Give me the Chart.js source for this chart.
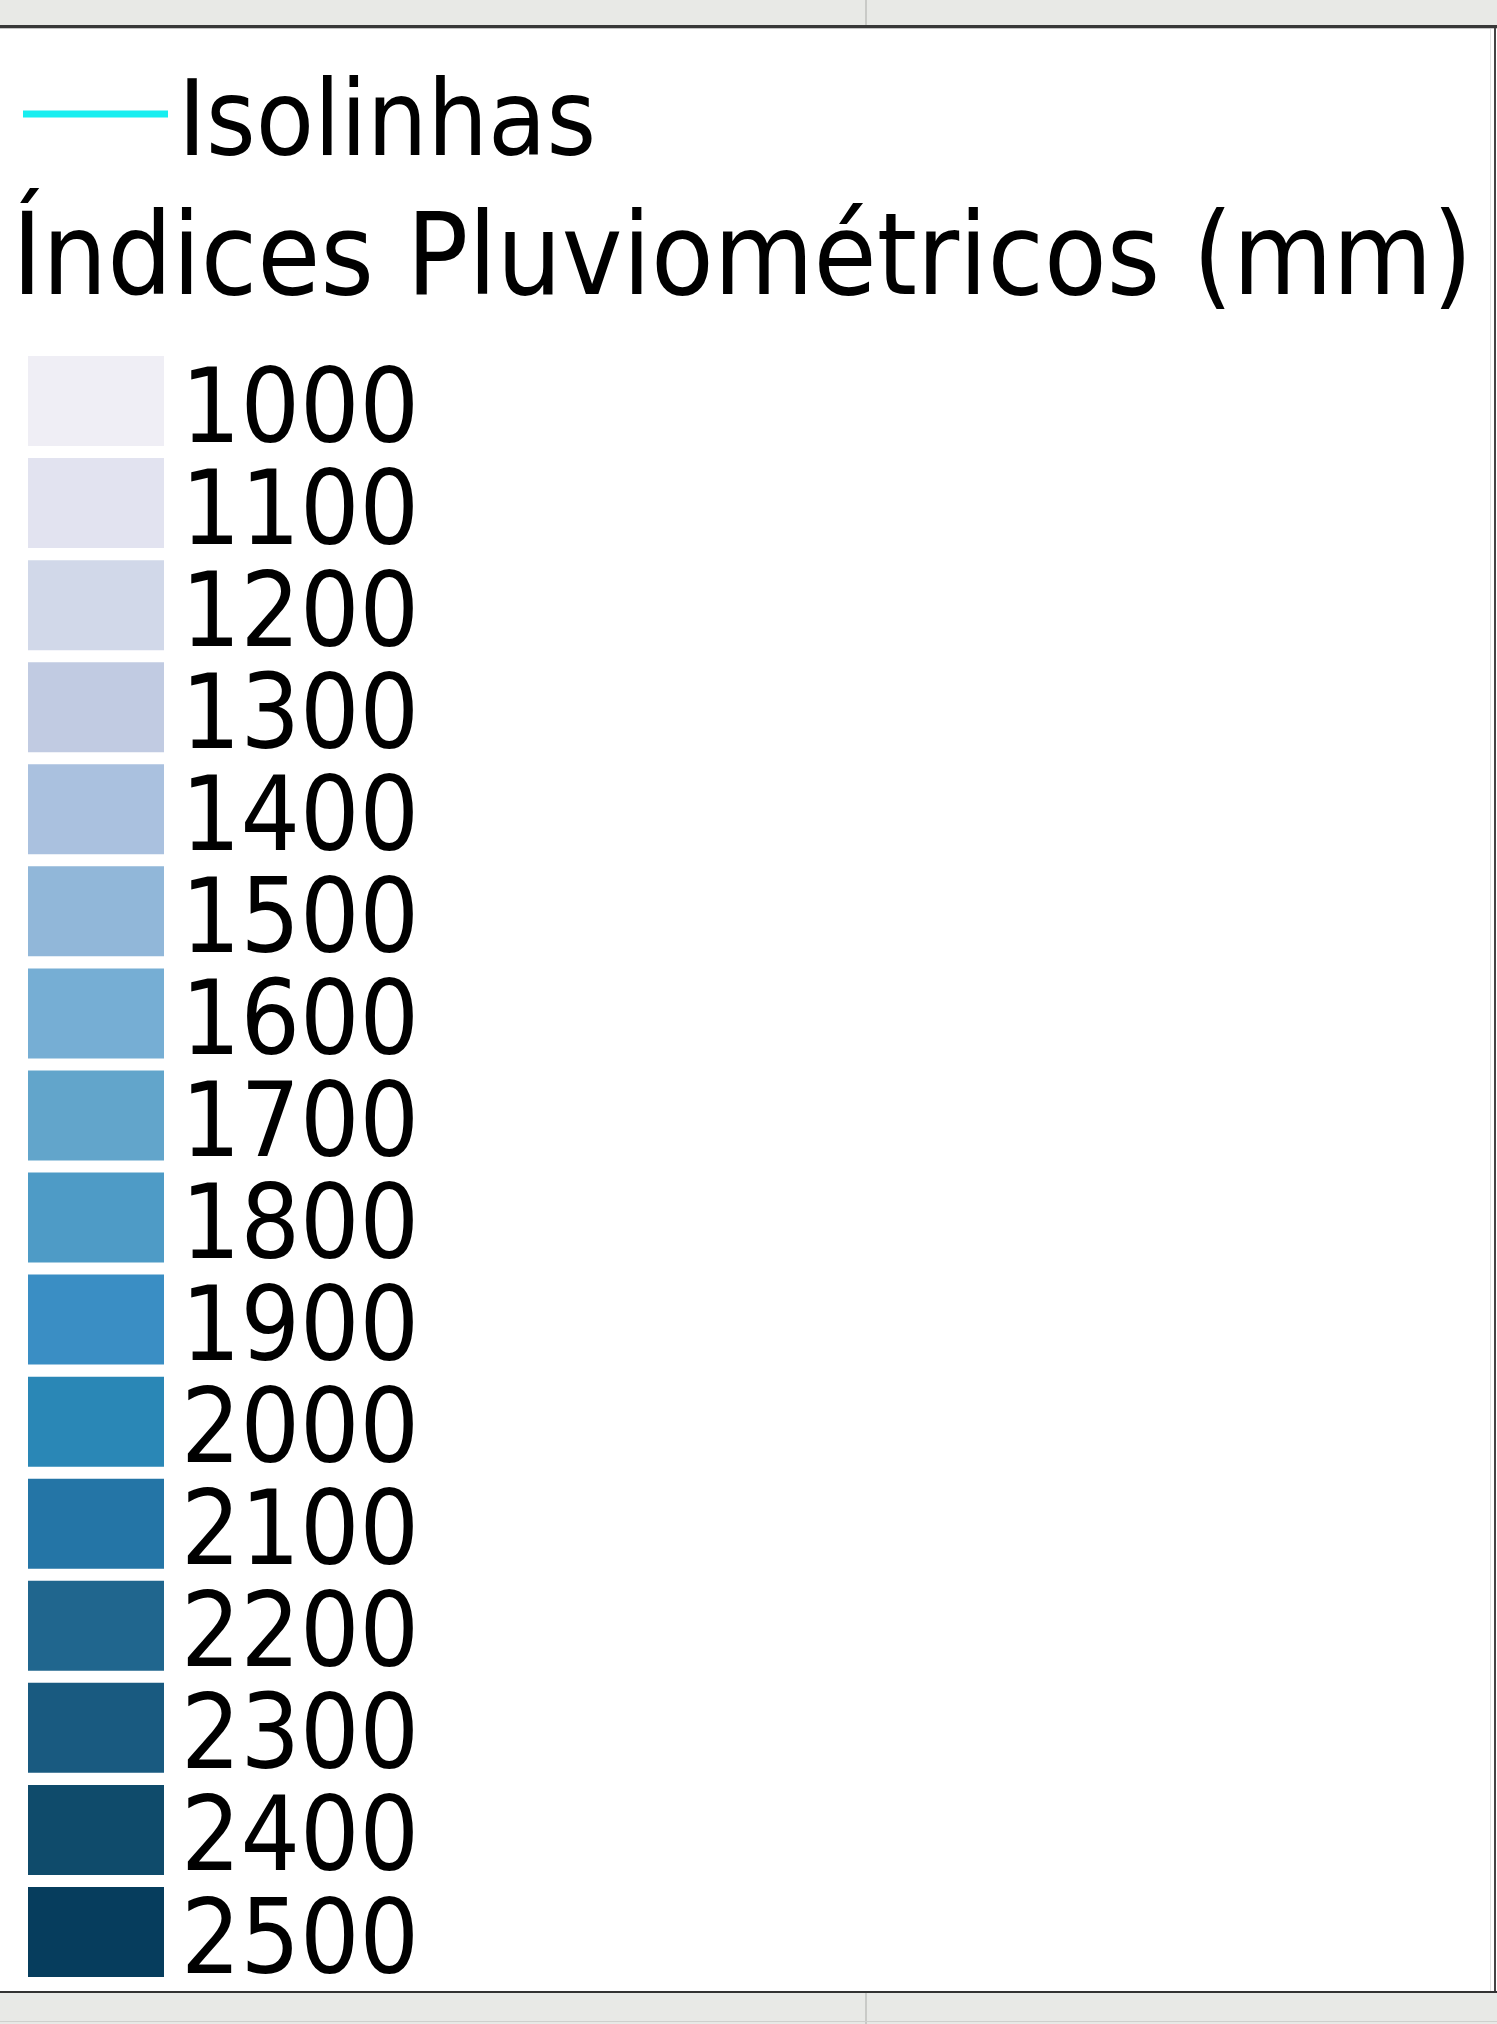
<!DOCTYPE html>
<html lang="pt-BR">
<head>
<meta charset="utf-8">
<title>Índices Pluviométricos (mm)</title>
<script src="https://cdn.jsdelivr.net/npm/chart.js@4/dist/chart.umd.min.js"></script>
<style>
  html, body { margin: 0; padding: 0; background: #ffffff; }
  body { width: 1497px; height: 2024px; position: relative; overflow: hidden; }
  .band { position: absolute; left: 0; width: 1497px; background: #e8e9e6; }
  .band-top { top: 0; height: 25px; }
  .band-bottom { top: 1993px; height: 31px; }
  .line { position: absolute; }
  .chart-box { position: absolute; left: 0; top: 0; width: 1497px; height: 2024px; z-index: 2; }
</style>
</head>
<body>
  <div class="band band-top"></div>
  <div class="line" style="left:865px; top:0; width:2px; height:25px; background:#c9cac7;"></div>
  <div class="line" style="left:0; top:25px; width:1497px; height:3px; background:#383838;"></div>
  <div class="line" style="left:0; top:28px; width:1497px; height:1px; background:#c4c4c4;"></div>
  <div class="line" style="left:1490px; top:29px; width:1px; height:1962px; background:#e2e2e2;"></div>
  <div class="line" style="left:1494px; top:28px; width:2px; height:1965px; background:#444444;"></div>
  <div class="line" style="left:0; top:1991px; width:1497px; height:2px; background:#333333;"></div>
  <div class="band band-bottom"></div>
  <div class="line" style="left:865px; top:1993px; width:2px; height:31px; background:#c9cac7;"></div>
  <div class="line" style="left:0; top:2021px; width:1497px; height:1px; background:#cfd0cd;"></div>

  <div class="chart-box"><canvas id="legendChart"></canvas></div>

<script>
// classes da legenda (mm)
const classes = ["1000", "1100", "1200", "1300", "1400", "1500", "1600", "1700",
                 "1800", "1900", "2000", "2100", "2200", "2300", "2400", "2500"];
const classColors = ["#efeef5", "#e2e3f0", "#d1d8e9", "#c1cbe2", "#aac1df", "#91b7d9",
                     "#76aed4", "#62a5cb", "#4e9bc6", "#3a8ec4", "#2a87b6", "#2475a6",
                     "#20668e", "#195a80", "#0f4b6b", "#063d5d"];
// every swatch fills one unit of the x scale
const swatchFill = [1, 1, 1, 1, 1, 1, 1, 1, 1, 1, 1, 1, 1, 1, 1, 1];
const isolineLabel = "Isolinhas";
const isolineColor = "#17eef0";
const legendTitle = "Índices Pluviométricos (mm)";

const fontFamily = "'DejaVu Sans Condensed', 'DejaVu Sans', sans-serif";

document.addEventListener("DOMContentLoaded", function () {
  const ctx = document.getElementById("legendChart").getContext("2d");

  // cyan stroke used as the legend symbol of the isolines
  const isoSymbol = document.createElement("canvas");
  isoSymbol.width = 189;
  isoSymbol.height = 34;
  const sctx = isoSymbol.getContext("2d");
  sctx.fillStyle = isolineColor;
  sctx.fillRect(44, 0.5, 145, 7);

  new Chart(ctx, {
    type: "bar",
    data: {
      labels: classes,
      datasets: [
        {
          label: legendTitle,
          data: swatchFill,
          backgroundColor: classColors,
          borderWidth: 0,
          barPercentage: 0.882,
          categoryPercentage: 1,
          yAxisID: "y",
        },
        {
          type: "line",
          label: isolineLabel,
          data: [],
          borderColor: isolineColor,
          backgroundColor: isolineColor,
          pointStyle: isoSymbol,
          yAxisID: "y",
        },
      ],
    },
    options: {
      indexAxis: "y",
      responsive: true,
      maintainAspectRatio: false,
      animation: false,
      events: [],
      layout: {
        padding: { left: 12, right: 3, top: 64, bottom: 41 },
      },
      scales: {
        x: {
          display: false,
          min: 0,
          max: 1.125,
        },
        // left axis only keeps the swatches off the frame edge
        y: {
          position: "left",
          grid: { display: false, drawTicks: false },
          border: { display: false },
          ticks: { display: false },
          afterFit: function (scale) {
            scale.width = 16;
          },
        },
        // class labels written to the right of the swatches
        yLabels: {
          type: "category",
          position: "right",
          offset: true,
          grid: { display: false, drawTicks: false },
          border: { display: false },
          ticks: {
            padding: 0,
            autoSkip: false,
            color: "#000000",
            font: { family: fontFamily, size: 104, lineHeight: 0.26 },
            // empty first line nudges the number down onto the swatch centre
            callback: function (value) {
              return ["", this.getLabelForValue(value)];
            },
          },
          afterFit: function (scale) {
            scale.width = 1313;
          },
        },
      },
      plugins: {
        tooltip: { enabled: false },
        legend: {
          display: true,
          position: "top",
          align: "start",
          weight: 3000,
          labels: {
            usePointStyle: true,
            pointStyleWidth: 103,
            padding: 10,
            color: "#000000",
            font: { family: fontFamily, size: 106, lineHeight: 1 },
            generateLabels: function (chart) {
              const ds = chart.data.datasets[1];
              return [{
                text: ds.label,
                pointStyle: ds.pointStyle,
                fillStyle: ds.backgroundColor,
                strokeStyle: ds.borderColor,
                lineWidth: 0,
                hidden: false,
                datasetIndex: 1,
              }];
            },
          },
        },
        title: {
          display: true,
          text: legendTitle,
          align: "start",
          color: "#000000",
          padding: { top: 17, bottom: 29 },
          font: { family: fontFamily, size: 114, weight: "normal", lineHeight: 1 },
        },
      },
    },
  });
});
</script>
</body>
</html>
